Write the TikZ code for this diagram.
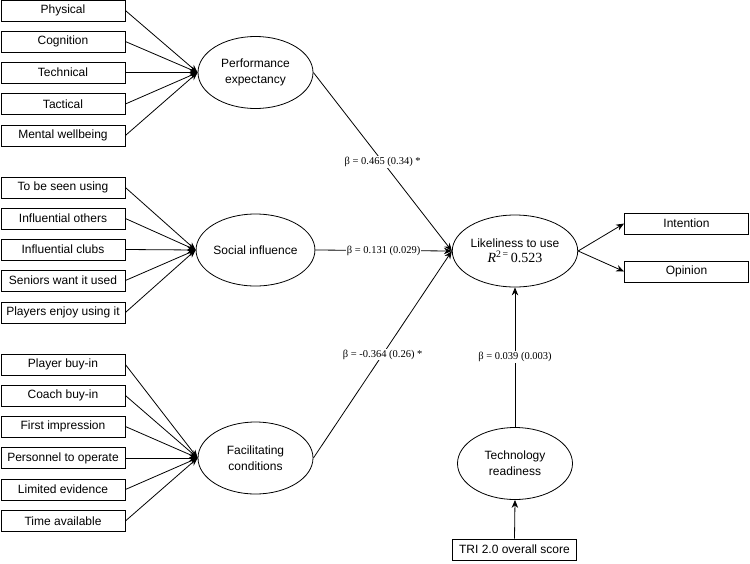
\documentclass[tikz,border=0pt]{standalone}
\usepackage{fontspec}
\setmainfont{Liberation Sans}
\newfontfamily\lblfont{Liberation Serif}
\usetikzlibrary{positioning,arrows.meta,shapes.geometric}

\begin{document}
\begin{tikzpicture}[x=1pt,y=-1pt,
  font=\fontsize{12}{16}\selectfont,
  line width=0.8pt,
  box/.style={draw,minimum width=124pt,minimum height=21pt,inner sep=0pt},
  lat/.style={draw,ellipse,minimum width=115pt,minimum height=72pt,align=center,inner sep=0pt},
  lbl/.style={fill=white,inner sep=1pt,font=\lblfont\fontsize{10.5}{12}\selectfont},
  >={Stealth[length=8pt,width=6.5pt]}]
  \useasboundingbox (0,0) rectangle (750,563);
  % performance items
  \node[box] (phy) at (63,10.5) {Physical};
  \node[box] (cog) at (63,41.5) {Cognition};
  \node[box] (tec) at (63,72.5) {Technical};
  \node[box] (tac) at (63,104) {Tactical};
  \node[box] (men) at (63,135.5) {Mental wellbeing};
  % social items
  \node[box] (seen) at (63,187.5) {To be seen using};
  \node[box] (oth) at (63,218.5) {Influential others};
  \node[box] (clb) at (63,249.5) {Influential clubs};
  \node[box] (sen) at (63,280.5) {Seniors want it used};
  \node[box] (ply) at (63,312.5) {Players enjoy using it};
  % facilitating items
  \node[box] (pbuy) at (63,364.5) {Player buy-in};
  \node[box] (cbuy) at (63,395.5) {Coach buy-in};
  \node[box] (fimp) at (63,426.5) {First impression};
  \node[box] (pers) at (63,458) {Personnel to operate};
  \node[box] (lim) at (63,489.5) {Limited evidence};
  \node[box] (time) at (63,521) {Time available};
  % latent constructs
  \node[lat] (pe) at (255.5,72.5) {Performance\\expectancy};
  \node[lat] (si) at (255.5,250) {Social influence};
  \node[lat] (fc) at (255.5,458) {Facilitating\\conditions};
  \node[lat] (lk) at (515,251) {Likeliness to use\\[-1pt]{\lblfont\fontsize{14}{16}\selectfont\textit{R}\textsuperscript{2\,=}\,0.523}};
  \node[lat] (tr) at (515,463.5) {Technology\\readiness};
  % outcomes
  \node[box] (int) at (686.5,223.5) {Intention};
  \node[box] (opi) at (686.5,271.5) {Opinion};
  \node[box] (tri) at (514.5,549.5) {TRI 2.0 overall score};
  % item arrows
  \draw[->] (phy.east) -- (pe.west);
  \draw[->] (cog.east) -- (pe.west);
  \draw[->] (tec.east) -- (pe.west);
  \draw[->] (tac.east) -- (pe.west);
  \draw[->] (men.east) -- (pe.west);
  \draw[->] (seen.east) -- (si.west);
  \draw[->] (oth.east) -- (si.west);
  \draw[->] (clb.east) -- (si.west);
  \draw[->] (sen.east) -- (si.west);
  \draw[->] (ply.east) -- (si.west);
  \draw[->] (pbuy.east) -- (fc.west);
  \draw[->] (cbuy.east) -- (fc.west);
  \draw[->] (fimp.east) -- (fc.west);
  \draw[->] (pers.east) -- (fc.west);
  \draw[->] (lim.east) -- (fc.west);
  \draw[->] (time.east) -- (fc.west);
  % paths
  \draw[->] (pe.east) -- node[lbl]{β = 0.465 (0.34) *} (lk.west);
  \draw[->] (si.east) -- node[lbl]{β = 0.131 (0.029)} (lk.west);
  \draw[->] (fc.east) -- node[lbl]{β = -0.364 (0.26) *} (lk.west);
  \draw[->] (tr.north) -- node[lbl]{β = 0.039 (0.003)} (lk.south);
  \draw[->] (tri.north) -- (tr.south);
  \draw[->] (lk.east) -- (int.west);
  \draw[->] (lk.east) -- (opi.west);
\end{tikzpicture}
\end{document}
